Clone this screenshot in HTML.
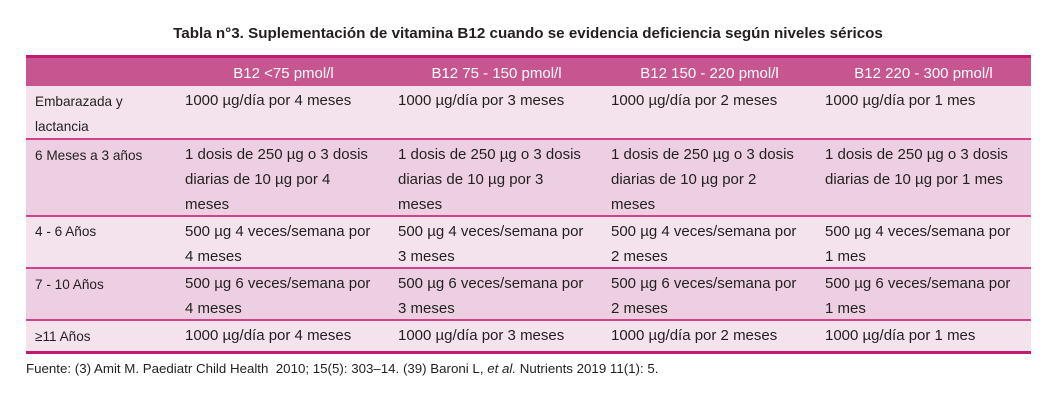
<!DOCTYPE html>
<html><head><meta charset="utf-8"><style>
body{margin:0;width:1053px;height:414px;background:#fff;position:relative;overflow:hidden;font-family:"Liberation Sans",sans-serif;color:#231f20}
.t{position:absolute;white-space:nowrap}
.title{left:0;width:1056px;text-align:center;top:25px;font-size:15.2px;font-weight:bold;color:#231f20}
.row{position:absolute;left:26px;width:1005px}
.c{position:absolute;font-size:15px;line-height:25px;white-space:nowrap}
.f{font-size:13.6px}
.hdr{color:#fff;font-size:15px;text-align:center;width:213px;top:6px}
</style></head><body>
<div class="t title">Tabla n°3. Suplementación de vitamina B12 cuando se evidencia deficiencia según niveles séricos</div>

<div class="row" style="top:55px;height:31px;background:#c7558f;border-top:3px solid #c21a72;box-sizing:border-box">
<div class="c hdr" style="left:151px;top:3px">B12 &lt;75 pmol/l</div>
<div class="c hdr" style="left:364px;top:3px">B12 75 - 150 pmol/l</div>
<div class="c hdr" style="left:577px;top:3px">B12 150 - 220 pmol/l</div>
<div class="c hdr" style="left:791px;top:3px">B12 220 - 300 pmol/l</div>
</div>

<div class="row" style="top:86px;height:52px;background:#f4e3ed"></div>
<div class="row" style="top:140px;height:75px;background:#ecd0e1"></div>
<div class="row" style="top:217px;height:50px;background:#f4e3ed"></div>
<div class="row" style="top:269px;height:50px;background:#ecd0e1"></div>
<div class="row" style="top:321px;height:30px;background:#f4e3ed"></div>
<div class="row" style="top:138px;height:2px;background:#d2428c"></div>
<div class="row" style="top:215px;height:2px;background:#d2428c"></div>
<div class="row" style="top:267px;height:2px;background:#d2428c"></div>
<div class="row" style="top:319px;height:2px;background:#d2428c"></div>
<div class="row" style="top:351px;height:3px;background:#c21a72"></div>

<div class="c f" style="left:35px;top:89px">Embarazada y<br>lactancia</div>
<div class="c" style="left:185px;top:88px">1000 µg/día por 4 meses</div>
<div class="c" style="left:398px;top:88px">1000 µg/día por 3 meses</div>
<div class="c" style="left:611px;top:88px">1000 µg/día por 2 meses</div>
<div class="c" style="left:825px;top:88px">1000 µg/día por 1 mes</div>

<div class="c f" style="left:35px;top:143px">6 Meses a 3 años</div>
<div class="c" style="left:185px;top:142px">1 dosis de 250 µg o 3 dosis<br>diarias de 10 µg por 4<br>meses</div>
<div class="c" style="left:398px;top:142px">1 dosis de 250 µg o 3 dosis<br>diarias de 10 µg por 3<br>meses</div>
<div class="c" style="left:611px;top:142px">1 dosis de 250 µg o 3 dosis<br>diarias de 10 µg por 2<br>meses</div>
<div class="c" style="left:825px;top:142px">1 dosis de 250 µg o 3 dosis<br>diarias de 10 µg por 1 mes</div>

<div class="c f" style="left:35px;top:219px">4 - 6 Años</div>
<div class="c" style="left:185px;top:219px">500 µg 4 veces/semana por<br>4 meses</div>
<div class="c" style="left:398px;top:219px">500 µg 4 veces/semana por<br>3 meses</div>
<div class="c" style="left:611px;top:219px">500 µg 4 veces/semana por<br>2 meses</div>
<div class="c" style="left:825px;top:219px">500 µg 4 veces/semana por<br>1 mes</div>

<div class="c f" style="left:35px;top:272px">7 - 10 Años</div>
<div class="c" style="left:185px;top:271px">500 µg 6 veces/semana por<br>4 meses</div>
<div class="c" style="left:398px;top:271px">500 µg 6 veces/semana por<br>3 meses</div>
<div class="c" style="left:611px;top:271px">500 µg 6 veces/semana por<br>2 meses</div>
<div class="c" style="left:825px;top:271px">500 µg 6 veces/semana por<br>1 mes</div>

<div class="c f" style="left:35px;top:324px">≥11 Años</div>
<div class="c" style="left:185px;top:323px">1000 µg/día por 4 meses</div>
<div class="c" style="left:398px;top:323px">1000 µg/día por 3 meses</div>
<div class="c" style="left:611px;top:323px">1000 µg/día por 2 meses</div>
<div class="c" style="left:825px;top:323px">1000 µg/día por 1 mes</div>

<div class="t" style="left:26px;top:361px;font-size:13.3px">Fuente: (3) Amit M. Paediatr Child Health&nbsp; 2010; 15(5): 303–14. (39) Baroni L, <i>et al.</i> Nutrients 2019 11(1): 5.</div>
</body></html>
